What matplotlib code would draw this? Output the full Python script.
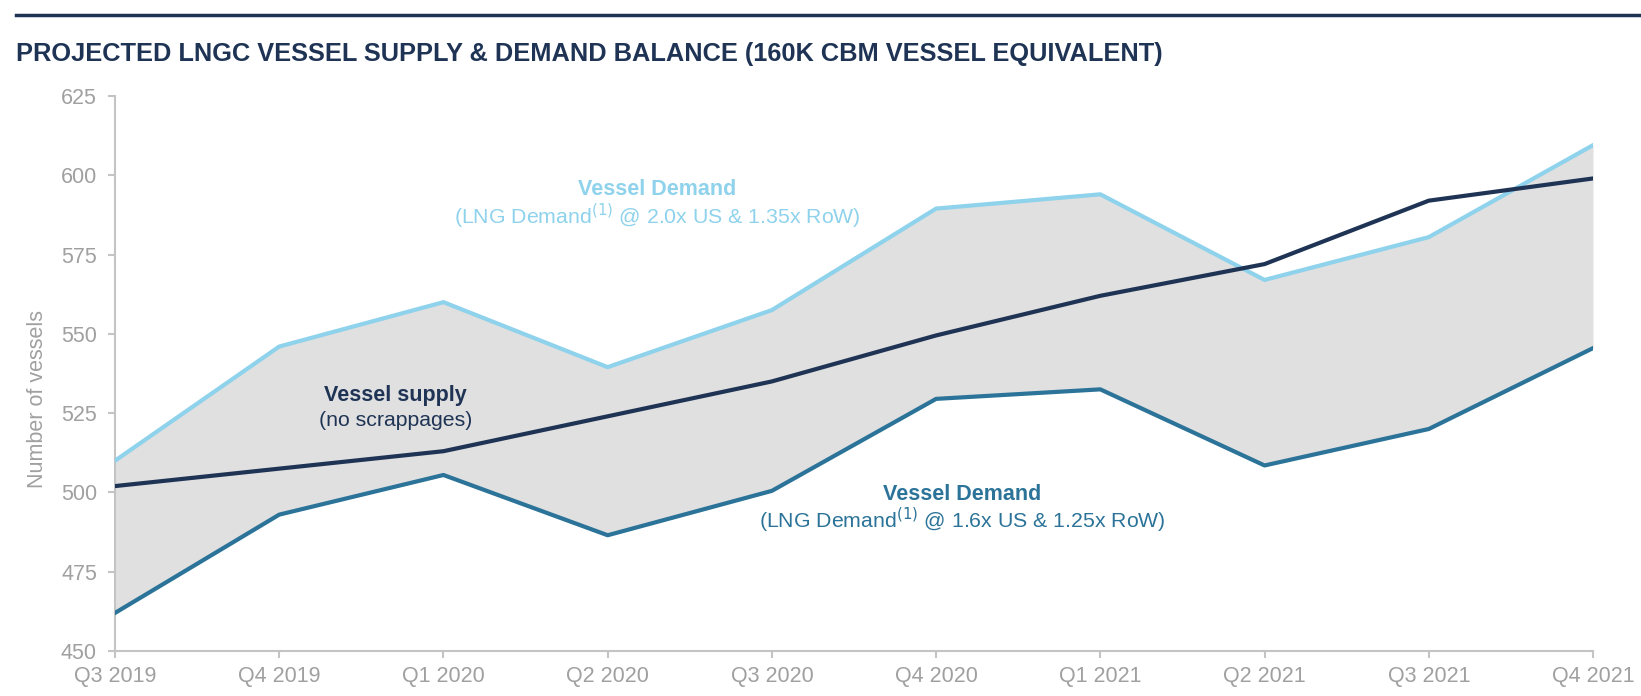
import numpy as np
import matplotlib
matplotlib.use('Agg')
import matplotlib.pyplot as plt
from matplotlib.lines import Line2D

plt.rcParams['font.family'] = ['Liberation Sans', 'DejaVu Sans']

# data
quarters = ['Q3 2019', 'Q4 2019', 'Q1 2020', 'Q2 2020', 'Q3 2020',
            'Q4 2020', 'Q1 2021', 'Q2 2021', 'Q3 2021', 'Q4 2021']
demand_high = [510, 546, 560, 539.5, 557.5, 589.5, 594, 567, 580.5, 609.5]
supply = [502, 507.5, 513, 524, 535, 549.5, 562, 572, 592, 599]
demand_low = [462, 493, 505.5, 486.5, 500.5, 529.5, 532.5, 508.5, 520, 545.5]
yticks = [450, 475, 500, 525, 550, 575, 600, 625]

navy = '#1F3455'
light_blue = '#8ED2EC'
mid_blue = '#2B7398'
grey_txt = '#A0A0A0'
spine_col = '#C4C4C4'

fig = plt.figure(figsize=(16.41, 6.96), dpi=100)
ax = fig.add_axes([115/1641, 1-651/696, (1593-115)/1641, (651-96)/696])

x = np.arange(len(quarters))
ax.fill_between(x, demand_low, demand_high, color='#E0E0E0', lw=0, zorder=1)
ax.plot(x, demand_high, color=light_blue, lw=3, zorder=3)
ax.plot(x, demand_low, color=mid_blue, lw=3, zorder=3)
ax.plot(x, supply, color=navy, lw=3, zorder=4)

ax.set_xlim(0, len(quarters)-1)
ax.set_ylim(450, 625)
ax.set_xticks(x)
ax.set_xticklabels(quarters)
ax.set_yticks(yticks)

for s in ['top', 'right']:
    ax.spines[s].set_visible(False)
for s in ['left', 'bottom']:
    ax.spines[s].set_color(spine_col)
    ax.spines[s].set_linewidth(1.5)
ax.tick_params(axis='both', colors=spine_col, labelcolor=grey_txt,
               labelsize=15.5, width=1.5, length=5)
ax.tick_params(axis='y', pad=8)
ax.tick_params(axis='x', pad=6)
ax.set_ylabel('Number of vessels', color=grey_txt, fontsize=15.5)
ax.yaxis.set_label_coords(-0.045, 0.454)

# labels inside the chart
ax.text(3.3, 595.5, 'Vessel Demand', color=light_blue, fontsize=15.5,
        fontweight='bold', ha='center', va='center')
ax.text(3.3, 587, '(LNG Demand$^{(1)}$ @ 2.0x US & 1.35x RoW)',
        color=light_blue, fontsize=15.3, ha='center', va='center')
ax.text(1.71, 530.5, 'Vessel supply', color=navy, fontsize=15.5,
        fontweight='bold', ha='center', va='center')
ax.text(1.71, 522.8, '(no scrappages)', color=navy, fontsize=15.3,
        ha='center', va='center')
ax.text(5.16, 499.3, 'Vessel Demand', color=mid_blue, fontsize=15.5,
        fontweight='bold', ha='center', va='center')
ax.text(5.16, 491.2, '(LNG Demand$^{(1)}$ @ 1.6x US & 1.25x RoW)',
        color=mid_blue, fontsize=15.3, ha='center', va='center')

# header rule and title
fig.add_artist(Line2D([16/1641, 1.0], [1-15/696, 1-15/696], color=navy, lw=2.5))
fig.text(16/1641, 1-54/696,
         'PROJECTED LNGC VESSEL SUPPLY & DEMAND BALANCE (160K CBM VESSEL EQUIVALENT)',
         color=navy, fontsize=18.3, fontweight='bold', ha='left', va='center')

fig.savefig('out.png', dpi=100)
